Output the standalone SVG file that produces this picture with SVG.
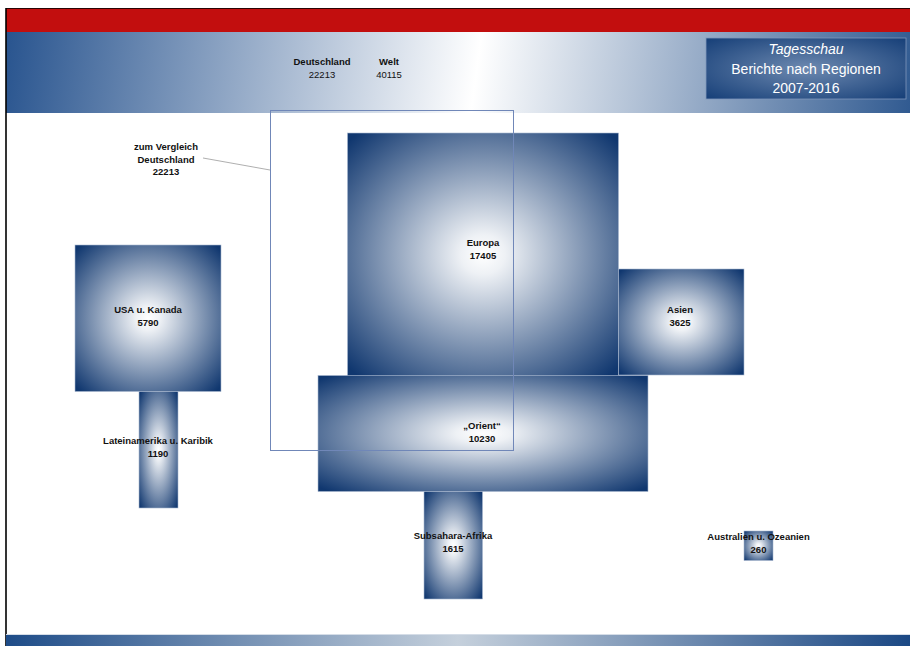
<svg xmlns="http://www.w3.org/2000/svg" width="910" height="646" viewBox="0 0 910 646">
<defs>
<radialGradient id="rg" cx="0.5" cy="0.5" r="0.68">
<stop offset="0" stop-color="#ffffff"/>
<stop offset="0.12" stop-color="#eef1f5"/>
<stop offset="1" stop-color="#10376f"/>
</radialGradient>
<radialGradient id="tg" cx="0.5" cy="0.5" r="0.7">
<stop offset="0" stop-color="#6d89b0"/>
<stop offset="1" stop-color="#163f78"/>
</radialGradient>
<linearGradient id="hg" gradientUnits="userSpaceOnUse" x1="6" y1="10" x2="910" y2="135">
<stop offset="0" stop-color="#27538e"/>
<stop offset="0.52" stop-color="#ffffff"/>
<stop offset="1" stop-color="#2f5990"/>
</linearGradient>
<linearGradient id="bg" gradientUnits="userSpaceOnUse" x1="6" y1="0" x2="910" y2="0">
<stop offset="0" stop-color="#1e4c88"/>
<stop offset="0.5" stop-color="#c5d0dc"/>
<stop offset="1" stop-color="#1b4884"/>
</linearGradient>
</defs>
<style>
.box{fill:url(#rg);stroke:#a9b8cf;stroke-width:0.6}
.lb{font-family:"Liberation Sans",Arial,sans-serif;font-size:9.5px;font-weight:bold;fill:#111;text-anchor:middle}
.ln{font-family:"Liberation Sans",Arial,sans-serif;font-size:9.5px;fill:#111;text-anchor:middle}
.tt{font-family:"Liberation Sans",Arial,sans-serif;font-size:14px;fill:#ffffff;text-anchor:middle}
</style>
<rect x="0" y="0" width="910" height="646" fill="#ffffff"/>
<g id="header">
<rect x="6" y="9" width="904" height="23" fill="#c20e0e"/>
<rect x="6" y="32" width="904" height="81" fill="url(#hg)"/>
<line x1="6" y1="8.5" x2="910" y2="8.5" stroke="#2a0505" stroke-width="1.2"/>
<line x1="6" y1="8" x2="6" y2="646" stroke="#000" stroke-width="1.6"/>
<text class="lb" x="322" y="65">Deutschland</text>
<text class="ln" x="322" y="78">22213</text>
<text class="lb" x="389" y="65">Welt</text>
<text class="ln" x="389" y="78">40115</text>
</g>
<g id="title">
<rect x="706" y="38" width="200" height="61" fill="url(#tg)" stroke="#7f97bb" stroke-width="0.8"/>
<text class="tt" x="806" y="54" font-style="italic">Tagesschau</text>
<text class="tt" x="806" y="74">Berichte nach Regionen</text>
<text class="tt" x="806" y="93">2007-2016</text>
</g>
<g id="footer">
<line x1="6" y1="634.5" x2="910" y2="634.5" stroke="#d5dde7" stroke-width="1"/>
<rect x="6" y="635" width="904" height="11" fill="url(#bg)"/>
</g>
<g id="europa">
<rect class="box" x="347.5" y="133" width="271" height="243"/>
<text class="lb" x="483" y="246">Europa</text>
<text class="lb" x="483" y="259">17405</text>
</g>
<g id="asien">
<rect class="box" x="618.5" y="269" width="125.5" height="106"/>
<text class="lb" x="680" y="313">Asien</text>
<text class="lb" x="680" y="326">3625</text>
</g>
<g id="orient">
<rect class="box" x="318" y="375.5" width="330" height="116"/>
<text class="lb" x="482" y="429">„Orient“</text>
<text class="lb" x="482" y="442">10230</text>
</g>
<g id="subsahara">
<rect class="box" x="424" y="491.5" width="58.5" height="107.5"/>
<text class="lb" x="453" y="539">Subsahara-Afrika</text>
<text class="lb" x="453" y="552">1615</text>
</g>
<g id="usa">
<rect class="box" x="75" y="245" width="146" height="146.5"/>
<text class="lb" x="148" y="313">USA u. Kanada</text>
<text class="lb" x="148" y="326">5790</text>
</g>
<g id="lateinamerika">
<rect class="box" x="139" y="391.5" width="39" height="116.5"/>
<text class="lb" x="158" y="444">Lateinamerika u. Karibik</text>
<text class="lb" x="158" y="457">1190</text>
</g>
<g id="australien">
<rect class="box" x="744" y="531" width="29" height="29.5"/>
<text class="lb" x="758.5" y="540">Australien u. Ozeanien</text>
<text class="lb" x="758.5" y="553">260</text>
</g>
<g id="vergleich">
<rect x="270.5" y="110.5" width="243" height="340" fill="none" stroke="#7087b8" stroke-width="1"/>
<text class="lb" x="166" y="150">zum Vergleich</text>
<text class="lb" x="166" y="163">Deutschland</text>
<text class="lb" x="166" y="175">22213</text>
</g>
<g id="connectors">
<line x1="203" y1="158" x2="270" y2="170" stroke="#9a9a9a" stroke-width="0.8"/>
</g>
</svg>
